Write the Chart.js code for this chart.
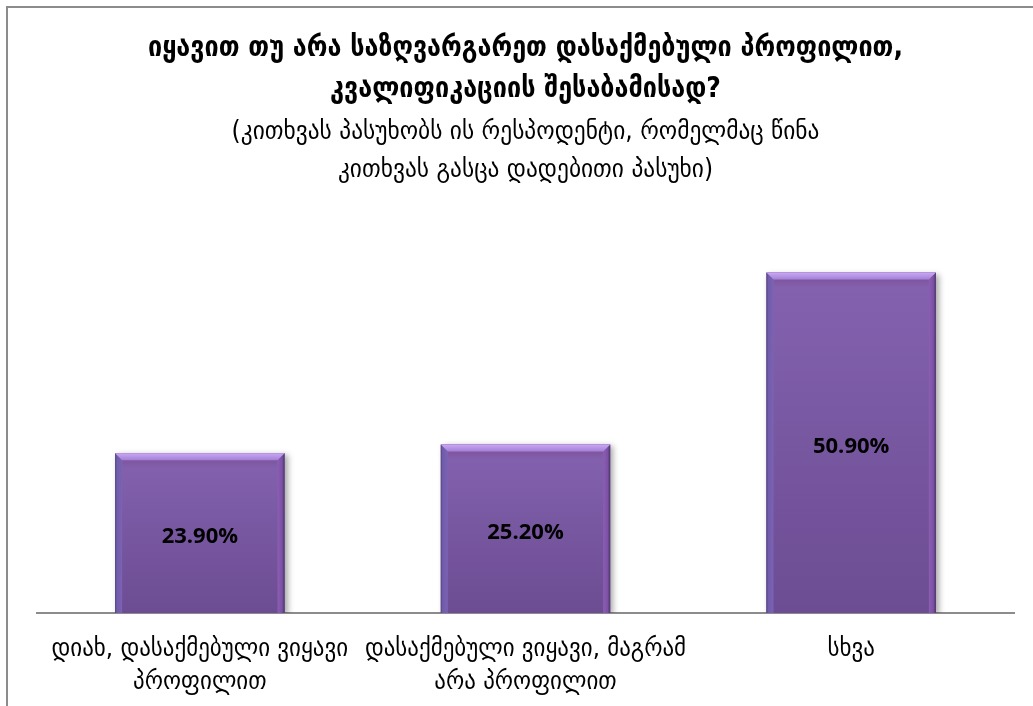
<!DOCTYPE html>
<html>
<head>
<meta charset="utf-8">
<script src="https://cdn.jsdelivr.net/npm/chart.js@4"></script>
<style>
  html, body { margin: 0; background: #fff; overflow: hidden; }
  #wrap { position: relative; width: 1033px; height: 706px; overflow: hidden; }
  #myChart { display: block; }
  #frame { position: absolute; left: 6px; top: 6px; right: 0; bottom: 0;
           border-left: 2px solid #8c8c8c; border-top: 2px solid #8c8c8c; pointer-events: none; }
</style>
</head>
<body>
<div id="wrap">
  <canvas id="myChart" width="1033" height="706"></canvas>
  <div id="frame"></div>
</div>
<script>
// chart data
const categories = [
    ['დიახ, დასაქმებული ვიყავი', 'პროფილით'],
    ['დასაქმებული ვიყავი, მაგრამ', 'არა პროფილით'],
    ['სხვა']
];
const values = [23.9, 25.2, 50.9];
const titleLines = ['იყავით თუ არა საზღვარგარეთ დასაქმებული პროფილით,', 'კვალიფიკაციის შესაბამისად?'];
const subtitleLines = ['(კითხვას პასუხობს ის რესპოდენტი, რომელმაც წინა', 'კითხვას გასცა დადებითი პასუხი)'];

const geoFont = "'DejaVu Sans Condensed', 'DejaVu Sans', sans-serif";

// shadow under the bars
const barShadow = {
    id: 'barShadow',
    beforeDatasetsDraw(chart) {
        const c = chart.ctx;
        c.save();
        c.shadowColor = 'rgba(0,0,0,0.35)';
        c.shadowBlur = 6;
        c.shadowOffsetX = 3;
        c.shadowOffsetY = 2;
    },
    afterDatasetsDraw(chart) {
        chart.ctx.restore();
    }
};

// bevel look + value labels
const barBevel = {
    id: 'barBevel',
    afterDatasetsDraw(chart) {
        const c = chart.ctx;
        const meta = chart.getDatasetMeta(0);
        meta.data.forEach((el, i) => {
            const p = el.getProps(['x', 'y', 'base', 'width'], true);
            const L = p.x - p.width / 2, R = p.x + p.width / 2, T = p.y, B = p.base;
            const b = 7;
            c.save();
            let g = c.createLinearGradient(0, T, 0, B);
            g.addColorStop(0, '#8462b0');
            g.addColorStop(1, '#6c4c92');
            c.fillStyle = g;
            c.fillRect(L, T, R - L, B - T);
            // darker band under the top edge
            g = c.createLinearGradient(0, T + b, 0, T + b + 8);
            g.addColorStop(0, 'rgba(125,80,150,0.7)');
            g.addColorStop(1, 'rgba(125,80,150,0)');
            c.fillStyle = g;
            c.fillRect(L + b, T + b, R - L - 2 * b, 8);
            // left bevel
            g = c.createLinearGradient(L, 0, L + b, 0);
            g.addColorStop(0, '#54447e');
            g.addColorStop(0.25, '#6f5cab');
            g.addColorStop(1, '#7c62b4');
            c.fillStyle = g;
            c.beginPath(); c.moveTo(L, T); c.lineTo(L + b, T + b); c.lineTo(L + b, B); c.lineTo(L, B); c.fill();
            // right bevel
            g = c.createLinearGradient(R - b, 0, R, 0);
            g.addColorStop(0, '#8a5eb4');
            g.addColorStop(0.65, '#7c50a4');
            g.addColorStop(1, '#4a3568');
            c.fillStyle = g;
            c.beginPath(); c.moveTo(R, T); c.lineTo(R - b, T + b); c.lineTo(R - b, B); c.lineTo(R, B); c.fill();
            // top bevel
            g = c.createLinearGradient(0, T, 0, T + b);
            g.addColorStop(0, '#cba8f4');
            g.addColorStop(1, '#a280d6');
            c.fillStyle = g;
            c.beginPath(); c.moveTo(L, T); c.lineTo(R, T); c.lineTo(R - b, T + b); c.lineTo(L + b, T + b); c.fill();
            // value label
            c.fillStyle = '#000';
            c.font = "bold 22px 'Open Sans', sans-serif";
            c.textAlign = 'center';
            c.textBaseline = 'middle';
            c.fillText(values[i].toFixed(2) + '%', p.x, (T + B) / 2 + 4);
            c.restore();
        });
    }
};

const ctx = document.getElementById('myChart');
const myChart = new Chart(ctx, {
    type: 'bar',
    data: {
        labels: categories,
        datasets: [{
            data: values,
            backgroundColor: '#7758a4',
            borderWidth: 0,
            categoryPercentage: 1,
            barPercentage: 0.52
        }]
    },
    options: {
        responsive: false,
        animation: false,
        layout: { padding: { left: 37, right: 19, top: 18, bottom: 0 } },
        plugins: {
            legend: { display: false },
            tooltip: { enabled: false },
            title: {
                display: true,
                text: titleLines,
                color: '#000',
                font: { family: geoFont, size: 28, weight: 'bold', lineHeight: 1.46 },
                padding: { top: 10, bottom: 0 }
            },
            subtitle: {
                display: true,
                text: subtitleLines,
                color: '#000',
                font: { family: geoFont, size: 26, weight: 'normal', lineHeight: 1.46 },
                padding: { top: 4, bottom: 22 }
            }
        },
        scales: {
            x: {
                grid: { display: false },
                border: { display: true, color: '#8c8c8c', width: 2 },
                ticks: {
                    color: '#000',
                    font: { family: geoFont, size: 25.5, lineHeight: 1.3 },
                    maxRotation: 0,
                    autoSkip: false,
                    padding: 12
                },
                afterFit(scale) { scale.height = 93; }
            },
            y: {
                display: false,
                min: 0,
                max: 60
            }
        }
    },
    plugins: [barShadow, barBevel]
});
</script>
</body>
</html>
